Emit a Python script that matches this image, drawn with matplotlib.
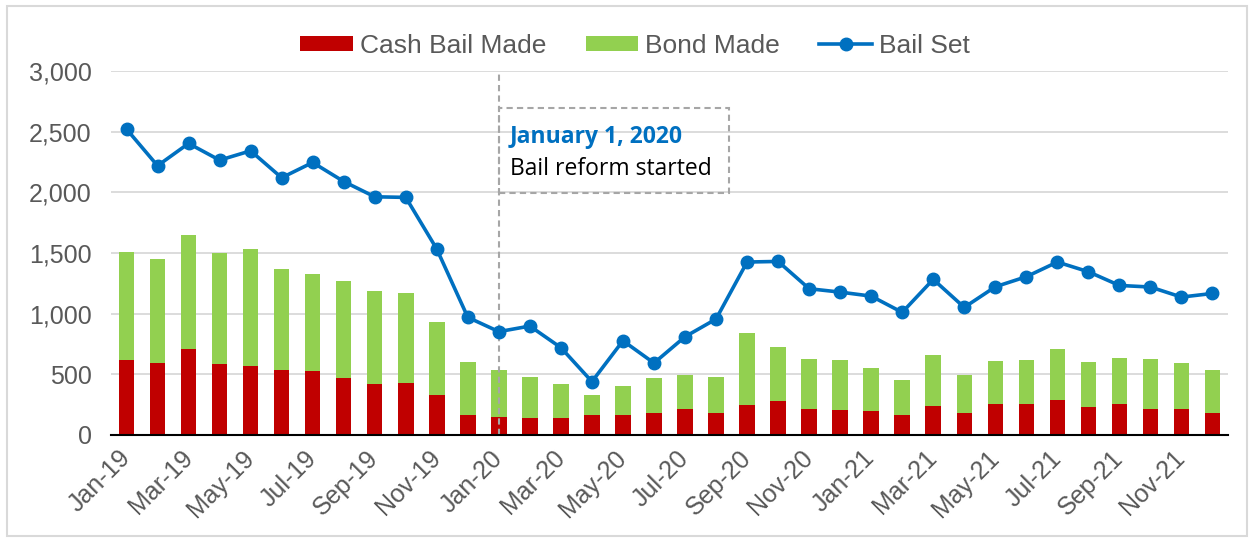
import matplotlib.pyplot as plt
from matplotlib.patches import Rectangle
import numpy as np

# monthly counts, Jan-19 .. Dec-21
months = ["Jan-19", "Feb-19", "Mar-19", "Apr-19", "May-19", "Jun-19", "Jul-19", "Aug-19",
          "Sep-19", "Oct-19", "Nov-19", "Dec-19",
          "Jan-20", "Feb-20", "Mar-20", "Apr-20", "May-20", "Jun-20", "Jul-20", "Aug-20",
          "Sep-20", "Oct-20", "Nov-20", "Dec-20",
          "Jan-21", "Feb-21", "Mar-21", "Apr-21", "May-21", "Jun-21", "Jul-21", "Aug-21",
          "Sep-21", "Oct-21", "Nov-21", "Dec-21"]
cash_bail = [618, 596, 709, 585, 566, 538, 530, 472, 420, 426, 330, 165,
             148, 140, 140, 165, 165, 181, 214, 181, 247, 280, 214, 209,
             198, 162, 242, 181, 258, 255, 288, 231, 255, 217, 217, 181]
total_made = [1511, 1453, 1645, 1503, 1533, 1365, 1324, 1269, 1189, 1173, 928, 599,
              536, 478, 420, 330, 407, 472, 497, 478, 841, 728, 624, 618,
              552, 450, 662, 492, 607, 621, 711, 604, 635, 624, 591, 536]
bail_set = [2522, 2220, 2404, 2266, 2343, 2121, 2247, 2090, 1964, 1959, 1533, 970,
            852, 898, 720, 440, 777, 593, 810, 956, 1426, 1431, 1206, 1178,
            1145, 1011, 1283, 1052, 1222, 1305, 1426, 1346, 1233, 1220, 1137, 1167]
bond_made = [t - c for t, c in zip(total_made, cash_bail)]

RED = "#C00000"
GREEN = "#92D050"
BLUE = "#0070C0"
GRAY_TXT = "#595959"

plt.rcParams["font.family"] = ["Liberation Sans", "DejaVu Sans"]

fig = plt.figure(figsize=(12.5, 5.39), dpi=100)
ax = fig.add_axes([0.0888, 0.193, 0.8936, 0.675])

x = np.arange(len(months))
b1 = ax.bar(x, cash_bail, width=0.5, color=RED, label="Cash Bail Made", zorder=2)
b2 = ax.bar(x, bond_made, width=0.5, bottom=cash_bail, color=GREEN, label="Bond Made", zorder=2)
ln, = ax.plot(x, bail_set, color=BLUE, lw=2.6, marker="o", ms=9, label="Bail Set", zorder=4)

ax.set_xlim(-0.5, len(months) - 0.5)
ax.set_ylim(0, 3000)
ax.set_yticks(range(0, 3001, 500))
ax.set_yticklabels([f"{v:,}" for v in range(0, 3001, 500)])
ax.set_xticks(x[::2])
ax.set_xticklabels(months[::2], rotation=45, ha="right", va="center",
                   rotation_mode="anchor")
ax.tick_params(axis="both", length=0, colors=GRAY_TXT, labelsize=18)
ax.tick_params(axis="x", pad=14)
ax.tick_params(axis="y", pad=14)
ax.yaxis.grid(True, color="#D9D9D9", lw=1.3, zorder=0)
ax.set_axisbelow(True)
for s in ["top", "right", "left"]:
    ax.spines[s].set_visible(False)
ax.spines["bottom"].set_color("black")
ax.spines["bottom"].set_linewidth(1.5)
ax.spines["bottom"].set_zorder(5)

# reform marker and note
ax.axvline(12, color="#A6A6A6", lw=1.5, ls=(0, (3, 2)), zorder=3)
ax.add_patch(Rectangle((12, 1995), 7.42, 700, fill=False, ec="#A6A6A6", lw=1.5,
                       ls=(0, (3, 2)), zorder=3))
ax.text(12.35, 2460, "January 1, 2020", color=BLUE, fontsize=16.5, fontweight="bold",
        family=["Open Sans", "DejaVu Sans"], va="center", ha="left")
ax.text(12.35, 2190, "Bail reform started", color="black", fontsize=16.5,
        family=["Open Sans", "DejaVu Sans"], va="center", ha="left")

fig.legend(handles=[b1, b2, ln], loc="center", bbox_to_anchor=(0.508, 0.915), ncol=3,
           frameon=False, fontsize=19, handlelength=2.0, handleheight=0.5,
           handletextpad=0.25, columnspacing=1.5, labelcolor=GRAY_TXT)

fig.patches.append(Rectangle((7 / 1250, 3 / 539), 1240 / 1250, 530 / 539,
                             transform=fig.transFigure, fill=False, ec="#D9D9D9", lw=1.5))

fig.savefig("out.png", dpi=100)
